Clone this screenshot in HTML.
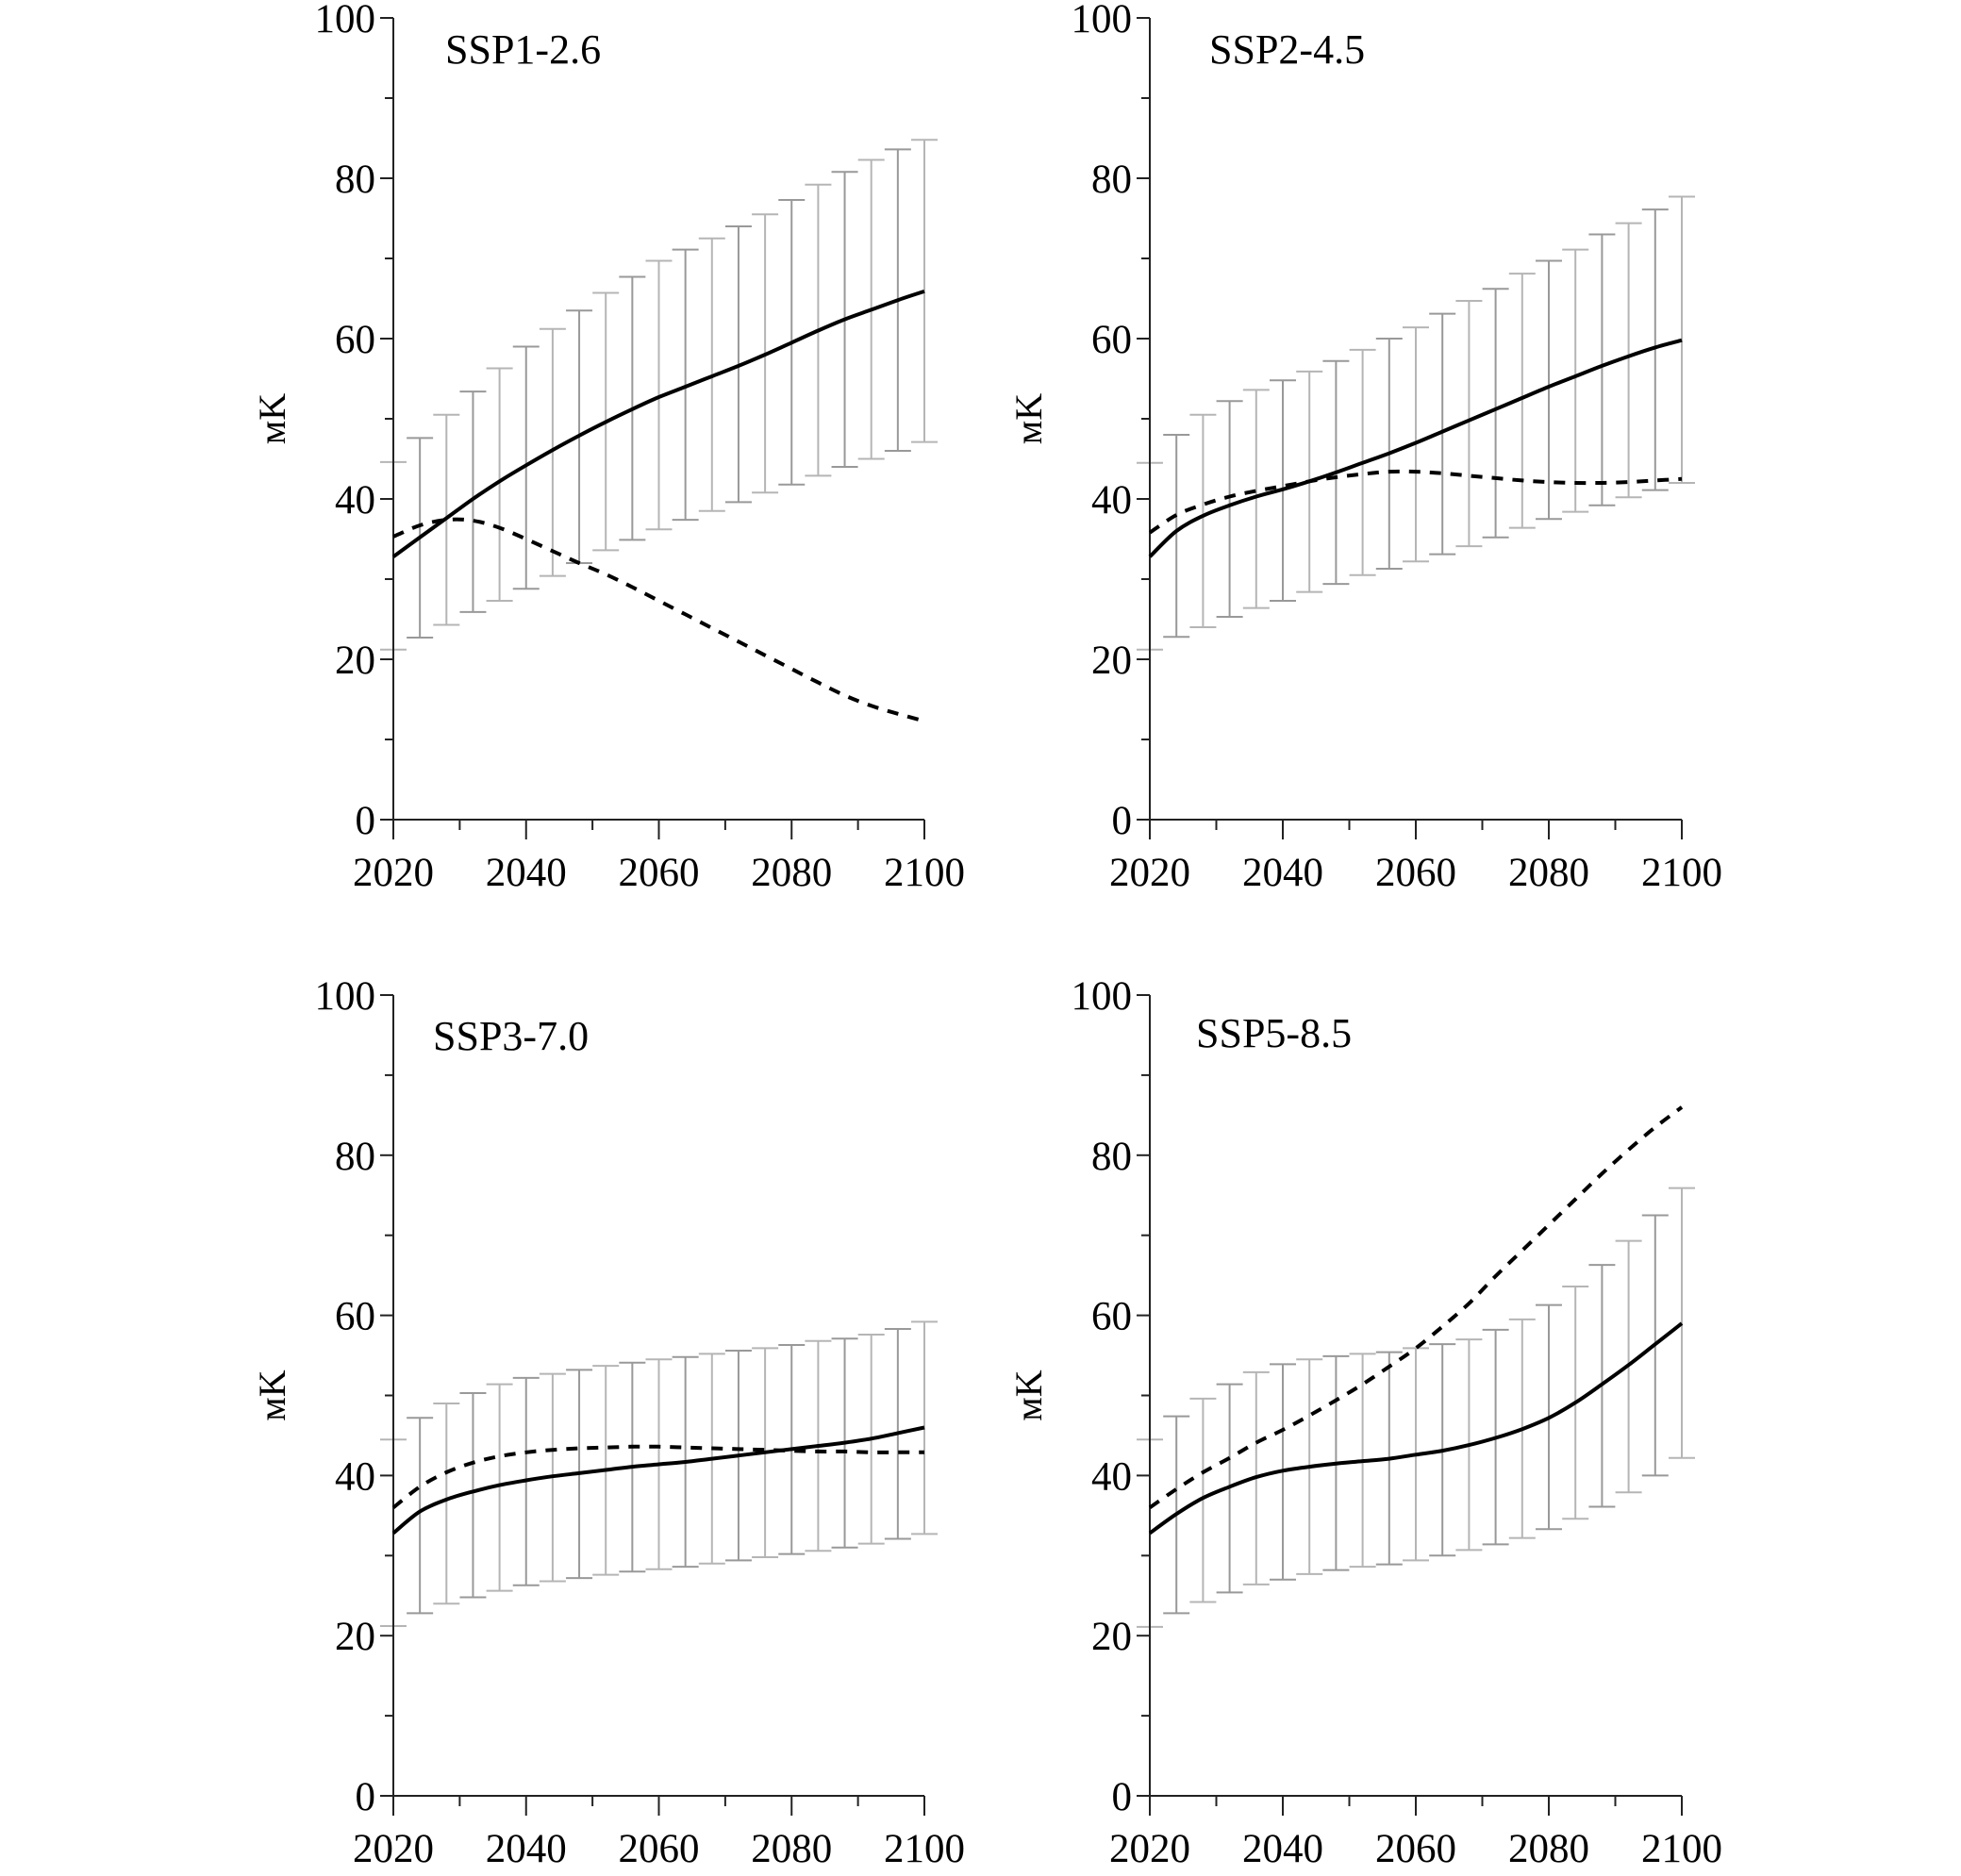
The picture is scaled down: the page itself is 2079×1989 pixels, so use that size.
<!DOCTYPE html>
<html><head><meta charset="utf-8"><style>
html,body{margin:0;padding:0;background:#fff;}
svg{display:block;}
text{font-family:"Liberation Serif","DejaVu Serif",serif;fill:#000;}
</style></head>
<body>
<svg id="chart" width="2079" height="1989" viewBox="0 0 2079 1989" xmlns="http://www.w3.org/2000/svg"></svg>
<script>
const years = [2020,2024,2028,2032,2036,2040,2044,2048,2052,2056,2060,2064,2068,2072,2076,2080,2084,2088,2092,2096,2100];
const xTicks = [2020,2040,2060,2080,2100];
const yTicks = [0,20,40,60,80,100];
const scenarios = ["SSP1-2.6","SSP2-4.5","SSP3-7.0","SSP5-8.5"];

const ssp126Solid = [32.8,35.2,37.6,40,42.2,44.2,46.1,47.9,49.6,51.2,52.7,54,55.3,56.6,58,59.5,61,62.4,63.6,64.8,65.9];
const ssp126Dashed = [35.3,36.7,37.4,37.3,36.4,35,33.5,32,30.6,29,27.3,25.6,23.9,22.2,20.5,18.8,17.1,15.5,14.2,13.2,12.3];
const ssp126Upper = [44.6,47.6,50.5,53.4,56.3,59,61.2,63.5,65.7,67.7,69.7,71.1,72.5,74,75.5,77.3,79.2,80.8,82.3,83.6,84.8];
const ssp126Lower = [21.2,22.7,24.3,25.9,27.3,28.8,30.4,32,33.6,34.9,36.2,37.4,38.5,39.6,40.8,41.8,42.9,44,45,46,47.1];

const ssp245Solid = [32.8,36,37.9,39.2,40.3,41.2,42.2,43.3,44.5,45.7,47,48.4,49.8,51.2,52.6,54,55.3,56.6,57.8,58.9,59.8];
const ssp245Dashed = [35.8,38,39.3,40.3,41,41.6,42.2,42.7,43.1,43.4,43.4,43.2,42.9,42.6,42.3,42.1,42,42,42.1,42.3,42.5];
const ssp245Upper = [44.5,48,50.5,52.2,53.6,54.8,55.9,57.2,58.6,60,61.4,63.1,64.7,66.2,68.1,69.7,71.1,73,74.4,76.1,77.7];
const ssp245Lower = [21.2,22.8,24,25.3,26.4,27.3,28.4,29.4,30.5,31.3,32.2,33.1,34.1,35.2,36.4,37.5,38.4,39.2,40.2,41.1,42];

const ssp370Solid = [32.8,35.5,37,38,38.8,39.4,39.9,40.3,40.7,41.1,41.4,41.7,42.1,42.5,42.9,43.3,43.7,44.1,44.6,45.3,46];
const ssp370Dashed = [36,38.6,40.4,41.6,42.4,42.9,43.2,43.4,43.5,43.6,43.6,43.5,43.4,43.3,43.2,43.1,43,43,42.9,42.9,42.9];
const ssp370Upper = [44.5,47.2,49,50.3,51.4,52.2,52.7,53.2,53.7,54.1,54.5,54.8,55.2,55.6,55.9,56.3,56.8,57.1,57.6,58.3,59.2];
const ssp370Lower = [21.2,22.8,24,24.8,25.6,26.3,26.8,27.2,27.6,28,28.3,28.6,29,29.4,29.8,30.2,30.6,31,31.5,32.1,32.7];

const ssp585Solid = [32.8,35.2,37.2,38.6,39.8,40.6,41.1,41.5,41.8,42.1,42.6,43.1,43.8,44.7,45.8,47.2,49.1,51.4,53.8,56.4,59];
const ssp585Dashed = [36,38.3,40.4,42.2,44.1,45.7,47.5,49.4,51.4,53.6,55.9,58.6,61.5,64.9,68.1,71.3,74.5,77.7,80.7,83.5,86];
const ssp585Upper = [44.5,47.4,49.6,51.4,52.9,53.9,54.5,54.9,55.2,55.4,55.9,56.4,57,58.2,59.5,61.3,63.6,66.3,69.3,72.5,75.9];
const ssp585Lower = [21.1,22.8,24.2,25.4,26.4,27,27.7,28.2,28.6,28.9,29.4,30,30.7,31.4,32.2,33.3,34.6,36.1,37.9,40,42.2];

const panels = [
  {name:"ssp1-2.6", title:scenarios[0], solid:ssp126Solid, dashed:ssp126Dashed, up:ssp126Upper, lo:ssp126Lower, x0:417, x1:980, yT:19, yB:869, tx:472, ty:67, lx:288},
  {name:"ssp2-4.5", title:scenarios[1], solid:ssp245Solid, dashed:ssp245Dashed, up:ssp245Upper, lo:ssp245Lower, x0:1219, x1:1783, yT:19, yB:869, tx:1282, ty:67, lx:1090},
  {name:"ssp3-7.0", title:scenarios[2], solid:ssp370Solid, dashed:ssp370Dashed, up:ssp370Upper, lo:ssp370Lower, x0:417, x1:980, yT:1055, yB:1904, tx:459, ty:1113, lx:288},
  {name:"ssp5-8.5", title:scenarios[3], solid:ssp585Solid, dashed:ssp585Dashed, up:ssp585Upper, lo:ssp585Lower, x0:1219, x1:1783, yT:1055, yB:1904, tx:1268, ty:1110, lx:1090}
];

const NS = "http://www.w3.org/2000/svg";
const svg = document.getElementById('chart');
function mk(tag, attrs, parent){
  const e = document.createElementNS(NS, tag);
  for (const k in attrs) e.setAttribute(k, attrs[k]);
  parent.appendChild(e);
  return e;
}
function smooth(pts){
  let d = 'M' + pts[0][0].toFixed(1) + ',' + pts[0][1].toFixed(1);
  for (let i = 0; i < pts.length - 1; i++) {
    const p0 = pts[Math.max(i-1,0)], p1 = pts[i], p2 = pts[i+1], p3 = pts[Math.min(i+2, pts.length-1)];
    const c1 = [p1[0] + (p2[0]-p0[0])/6, p1[1] + (p2[1]-p0[1])/6];
    const c2 = [p2[0] - (p3[0]-p1[0])/6, p2[1] - (p3[1]-p1[1])/6];
    d += 'C' + c1.map(v=>v.toFixed(1)).join(',') + ' ' + c2.map(v=>v.toFixed(1)).join(',') + ' ' + p2.map(v=>v.toFixed(1)).join(',');
  }
  return d;
}

panels.forEach(p => {
  const xs = v => p.x0 + (v - 2020) / 80 * (p.x1 - p.x0);
  const ys = v => p.yB - v / 100 * (p.yB - p.yT);
  const g = mk('g', {}, svg);
  
  

  const eg = mk('g', {stroke:'#a9a9a9','stroke-width':2,fill:'none'}, g);
  
  
  years.forEach((yr, i) => {
    const x = xs(yr), a = ys(p.up[i]), b = ys(p.lo[i]);
    const bar = mk('path', {d:`M${x},${a}V${b}M${x-14},${a}H${x+14}M${x-14},${b}H${x+14}`, stroke: i % 2 ? '#999' : '#b5b5b5'}, eg);
    
    
  });

  const ax = mk('g', {stroke:'#222','stroke-width':2,fill:'none'}, g);
  
  
  mk('line', {x1:p.x0, y1:p.yT, x2:p.x0, y2:p.yB}, ax);
  mk('line', {x1:p.x0, y1:p.yB, x2:p.x1, y2:p.yB}, ax);
  for (let v = 0; v <= 100; v += 10) {
    const len = v % 20 === 0 ? 14 : 9;
    mk('line', {x1:p.x0 - len, y1:ys(v), x2:p.x0, y2:ys(v)}, ax);
  }
  for (let yr = 2020; yr <= 2100; yr += 10) {
    const len = (yr - 2020) % 20 === 0 ? 21 : 11;
    mk('line', {x1:xs(yr), y1:p.yB, x2:xs(yr), y2:p.yB + len}, ax);
  }
  yTicks.forEach(v => {
    const t = mk('text', {x:p.x0 - 19, y:ys(v) + 15, 'text-anchor':'end', 'font-size':43}, g);
    t.textContent = v;
    
    
  });
  xTicks.forEach(v => {
    const t = mk('text', {x:xs(v), y:p.yB + 70, 'text-anchor':'middle', 'font-size':43}, g);
    t.textContent = v;
    
    
  });

  const pts = arr => years.map((yr, i) => [xs(yr), ys(arr[i])]);
  const sl = mk('path', {d:smooth(pts(p.solid)), stroke:'#000','stroke-width':4, fill:'none','stroke-linejoin':'round'}, g);
  
  
  const dl = mk('path', {d:smooth(pts(p.dashed)), stroke:'#000','stroke-width':4, fill:'none','stroke-dasharray':'12 10'}, g);
  
  

  const tt = mk('text', {x:p.tx, y:p.ty, 'font-size':44}, g);
  tt.textContent = p.title;
  
  

  const cy = (p.yT + p.yB) / 2;
  const yl = mk('text', {x:p.lx, y:cy, 'font-size':40, 'text-anchor':'middle', transform:`rotate(-90 ${p.lx} ${cy})`, dy:14}, g);
  yl.textContent = 'мK';
  
  
});
</script>
</body></html>
